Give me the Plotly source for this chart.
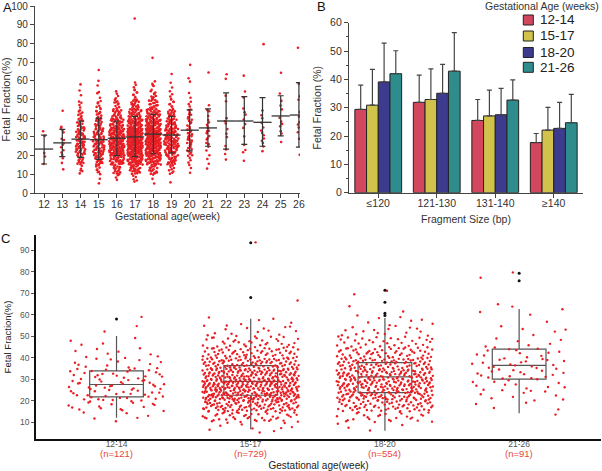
import plotly.graph_objects as go

W, H = 602, 471

# ---------------- Panel A data (counts per 5%-wide fetal-fraction band, starting at 5%) ----------------
weeks = list(range(12, 27))
band_start = 5
band_width = 5
w12 = [0, 0, 2, 1, 0, 2]
w13 = [0, 1, 2, 4, 4, 3, 1, 1]
w14 = [0, 5, 12, 20, 20, 17, 12, 7, 4, 2, 1]
w15 = [2, 8, 16, 24, 24, 20, 14, 10, 6, 3, 2, 0, 1]
w16 = [3, 14, 32, 48, 50, 42, 30, 18, 9, 4]
w17 = [5, 22, 42, 62, 66, 56, 40, 28, 16, 7, 4, 0, 0, 0, 0, 0, 0, 1]
w18 = [3, 16, 36, 54, 60, 56, 42, 30, 18, 9, 5, 0, 0, 1]
w19 = [1, 8, 20, 28, 32, 30, 22, 14, 8, 4, 2, 1]
w20 = [0, 2, 5, 8, 9, 9, 7, 6, 3, 2, 1, 1, 1]
w21 = [0, 1, 2, 3, 4, 5, 4, 3, 1, 0, 0, 1]
w22 = [0, 0, 1, 2, 2, 2, 2, 1, 1, 1, 0, 2]
w23 = [0, 0, 1, 2, 1, 2, 2, 2, 1, 2, 0, 1]
w24 = [0, 0, 0, 2, 3, 3, 3, 2, 0, 0, 0, 0, 0, 0, 1]
w25 = [0, 0, 0, 0, 1, 2, 3, 2, 2, 1, 0, 1]
w26 = [0, 0, 0, 1, 1, 2, 2, 2, 1, 1, 1, 0, 0, 0, 1]
week_counts = [w12, w13, w14, w15, w16, w17, w18, w19, w20, w21, w22, w23, w24, w25, w26]

week_mean = [23.5, 26.8, 28.8, 28.5, 29.3, 30.0, 31.5, 31.0, 33.6, 34.8, 38.5, 38.5, 37.8, 41.2, 41.7]
week_sd_low = [15.5, 19.5, 19.0, 18.0, 20.0, 19.5, 21.0, 21.5, 22.5, 25.0, 23.5, 26.0, 25.0, 30.5, 24.5]
week_sd_high = [31.0, 34.0, 38.5, 40.0, 38.5, 41.0, 42.0, 41.0, 44.5, 45.0, 53.5, 51.5, 51.0, 52.0, 59.0]

# ---------------- Panel B data ----------------
fragment_sizes = ["≤120", "121-130", "131-140", "≥140"]
ga_groups = ["12-14", "15-17", "18-20", "21-26"]
ff_12_14 = [29.4, 31.9, 25.5, 17.7]
ff_15_17 = [30.9, 32.9, 27.1, 22.1]
ff_18_20 = [39.1, 35.1, 27.5, 22.7]
ff_21_26 = [42.0, 42.9, 32.7, 24.7]
top_12_14 = [38.0, 41.5, 32.9, 20.9]
top_15_17 = [43.5, 43.7, 36.2, 30.1]
top_18_20 = [52.8, 45.3, 36.8, 31.9]
top_21_26 = [50.1, 56.5, 39.8, 34.7]
b_colors = ["#D2475E", "#D0C24A", "#3D3B8E", "#2F8C8C"]

# ---------------- Panel C data ----------------
c_groups = ["12-14", "15-17", "18-20", "21-26"]
c_n = [121, 729, 554, 91]
c_members = [[12, 13, 14], [15, 16, 17], [18, 19, 20], [21, 22, 23, 24, 25, 26]]
c_q1 = [21.7, 22.5, 23.7, 30.0]
c_median = [27.5, 29.0, 31.1, 36.4]
c_q3 = [33.9, 36.3, 37.7, 44.0]
c_low = [12.0, 6.6, 6.0, 14.1]
c_high = [50.1, 58.2, 58.5, 62.7]
c_outliers = [[58.0], [68.1, 93.6], [59.7, 60.7, 65.8, 71.5], [75.9, 79.4]]

FONT = "Liberation Sans, Arial, sans-serif"
NARROW = "Liberation Sans Narrow, Arial Narrow, Liberation Sans, sans-serif"
RED = "rgb(232,30,36)"


def halton(i, base):
    f, r = 1.0, 0.0
    while i > 0:
        f /= base
        r += f * (i % base)
        i //= base
    return r


fig = go.Figure()

# ---------- Panel A: swarm ----------
ax, ay = [], []
for wi, (wk, counts) in enumerate(zip(weeks, week_counts)):
    for b, c in enumerate(counts):
        if c == 0:
            continue
        lo = band_start + b * band_width
        hw = min(0.42, 0.011 * c + 0.05)
        for j in range(c):
            idx = j + 1 + 11 * b + 5 * wi
            ay.append(lo + band_width * halton(idx, 2))
            ax.append(wk + hw * (2 * halton(idx, 3) - 1))
fig.add_trace(go.Scatter(x=ax, y=ay, mode="markers", xaxis="x", yaxis="y",
                         marker=dict(size=2.6, color=RED), showlegend=False, hoverinfo="skip"))
fig.add_trace(go.Scatter(
    x=weeks, y=week_mean, mode="markers", xaxis="x", yaxis="y", showlegend=False,
    marker=dict(symbol="line-ew", size=13, line=dict(width=1.3, color="#333")),
    error_y=dict(type="data", symmetric=False,
                 array=[h - m for h, m in zip(week_sd_high, week_mean)],
                 arrayminus=[m - l for m, l in zip(week_mean, week_sd_low)],
                 color="#333", thickness=1.2, width=3)))

# ---------- Panel B: bars ----------
for name, vals, tops, col in zip(ga_groups, [ff_12_14, ff_15_17, ff_18_20, ff_21_26],
                                 [top_12_14, top_15_17, top_18_20, top_21_26], b_colors):
    fig.add_trace(go.Bar(
        x=fragment_sizes, y=vals, name=name, xaxis="x2", yaxis="y2", showlegend=False,
        marker=dict(color=col, line=dict(color="#222", width=1)),
        error_y=dict(type="data", symmetric=False,
                     array=[t - v for t, v in zip(tops, vals)], arrayminus=[0] * len(vals),
                     color="#444", thickness=1.2, width=2.5)))

# ---------- Panel C: jitter + boxes ----------
cx, cy = [], []
for gi, members in enumerate(c_members):
    nb = max(len(week_counts[weeks.index(m)]) for m in members)
    tot = [0] * nb
    for m in members:
        for b, c in enumerate(week_counts[weeks.index(m)]):
            tot[b] += c
    for b, c in enumerate(tot):
        lo = band_start + b * band_width
        for j in range(c):
            idx = j + 1 + 37 * b + 13 * gi
            cy.append(lo + band_width * halton(idx, 2))
            cx.append(gi + 0.36 * (2 * halton(idx, 3) - 1))
fig.add_trace(go.Scatter(x=cx, y=cy, mode="markers", xaxis="x3", yaxis="y3",
                         marker=dict(size=2.4, color=RED), showlegend=False, hoverinfo="skip"))
fig.add_trace(go.Box(
    x=list(range(4)), q1=c_q1, median=c_median, q3=c_q3, lowerfence=c_low, upperfence=c_high,
    xaxis="x3", yaxis="y3", boxpoints=False, width=0.4, whiskerwidth=0,
    line=dict(color="#555", width=1.2), fillcolor="rgba(0,0,0,0)", showlegend=False))
ox, oy = [], []
for gi, outs in enumerate(c_outliers):
    for v in outs:
        ox.append(gi)
        oy.append(v)
fig.add_trace(go.Scatter(x=ox, y=oy, mode="markers", xaxis="x3", yaxis="y3",
                         marker=dict(size=3, color="#111"), showlegend=False))


def dx(p):
    return p / W


def dy(p):
    return 1 - p / H


common = dict(showgrid=False, zeroline=False, showline=True, ticks="outside", automargin=False)

layout = dict(
    width=W, height=H, margin=dict(l=0, r=0, t=0, b=0, autoexpand=False),
    paper_bgcolor="white", plot_bgcolor="white",
    font=dict(family=FONT, color="#333"),
    barmode="group", bargap=0.2, bargroupgap=0,
    xaxis=dict(domain=[dx(35), dx(300)], range=[11.5, 26.06], anchor="y",
               tickvals=weeks, ticklen=4, linecolor="#444", tickcolor="#444", linewidth=1.2,
               tickfont=dict(size=10.5, color="#333"), ticklabelstandoff=-3,
               title=dict(text="Gestational age(week)", font=dict(size=10.5, color="#333"), standoff=3),
               **common),
    yaxis=dict(domain=[dy(193), dy(6)], range=[0, 100], anchor="x", dtick=10,
               ticklen=4, linecolor="#444", tickcolor="#444", linewidth=1.2,
               tickfont=dict(size=10, color="#333"),
               title=dict(text="Fetal Fraction(%)", font=dict(size=11, color="#333"), standoff=1),
               **common),
    xaxis2=dict(domain=[dx(349), dx(583)], range=[-0.5, 3.5], anchor="y2", type="category",
                ticklen=4, linecolor="#444", tickcolor="#444", linewidth=1.2,
                tickfont=dict(size=10.5, color="#333"), ticklabelstandoff=-3,
                title=dict(text="Fragment Size (bp)", font=dict(size=10.5, family=NARROW, color="#333"), standoff=7),
                **common),
    yaxis2=dict(domain=[dy(192.7), dy(22.7)], range=[0, 60], anchor="x2", dtick=10,
                ticklen=4, linecolor="#444", tickcolor="#444", linewidth=1.2,
                tickfont=dict(size=10.5, color="#333"),
                minor=dict(dtick=5, ticks="outside", ticklen=2, tickcolor="#444"),
                title=dict(text="Fetal Fraction (%)", font=dict(size=10.5, family=NARROW, color="#333"), standoff=6),
                **common),
    xaxis3=dict(domain=[dx(36), dx(601)], range=[-0.6, 3.61], anchor="y3",
                tickvals=list(range(4)), ticktext=c_groups,
                ticklen=1, linecolor="#111", tickcolor="#555", linewidth=1.6,
                tickfont=dict(size=8.5, color="#555"), ticklabelstandoff=-5,
                title=dict(text="Gestational age(week)", font=dict(size=10, color="#222"), standoff=16),
                **common),
    yaxis3=dict(domain=[dy(439), dy(235)], range=[2.1, 97.2], anchor="x3",
                tickvals=[10, 20, 30, 40, 50, 60, 70, 80, 90],
                ticklen=3, linecolor="#111", tickcolor="#555", linewidth=1.6,
                tickfont=dict(size=8.5, color="#555"),
                title=dict(text="Fetal Fraction(%)", font=dict(size=9.5, family=NARROW, color="#222"), standoff=7),
                **common),
)
fig.update_layout(**layout)

mid = dict(xanchor="center", yanchor="middle", showarrow=False)
annotations = [
    dict(text="A", x=dx(7), y=dy(8), xref="paper", yref="paper", font=dict(size=13, color="#111"), **mid),
    dict(text="B", x=dx(321), y=dy(7), xref="paper", yref="paper", font=dict(size=13, color="#111"), **mid),
    dict(text="C", x=dx(5), y=dy(238), xref="paper", yref="paper", font=dict(size=13, color="#111"), **mid),
    dict(text="Gestational Age (weeks)", x=dx(542), y=dy(6), xref="paper", yref="paper",
         font=dict(size=10.5, family=NARROW, color="#333"), **mid),
]
for gi, n in enumerate(c_n):
    annotations.append(dict(text=f"(n={n})", x=gi, y=dy(453.7), xref="x3", yref="paper",
                            font=dict(size=9.5, color="#E8463C"), **mid))
shapes = []
leg_y = [20, 36, 52.5, 67.3]
for name, col, yc in zip(ga_groups, b_colors, leg_y):
    shapes.append(dict(type="rect", xref="paper", yref="paper",
                       x0=dx(523.3), x1=dx(533.3), y0=dy(yc + 5), y1=dy(yc - 5),
                       fillcolor=col, line=dict(color="#222", width=1)))
    annotations.append(dict(text=name, x=dx(538), y=dy(yc), xref="paper", yref="paper",
                            xanchor="left", yanchor="middle", showarrow=False,
                            font=dict(size=13.5, family=NARROW, color="#222")))
fig.update_layout(annotations=annotations, shapes=shapes)

fig.write_html("out.html", config={"displayModeBar": False},
               post_script="document.body.style.margin='0px';document.body.style.overflow='hidden';")
